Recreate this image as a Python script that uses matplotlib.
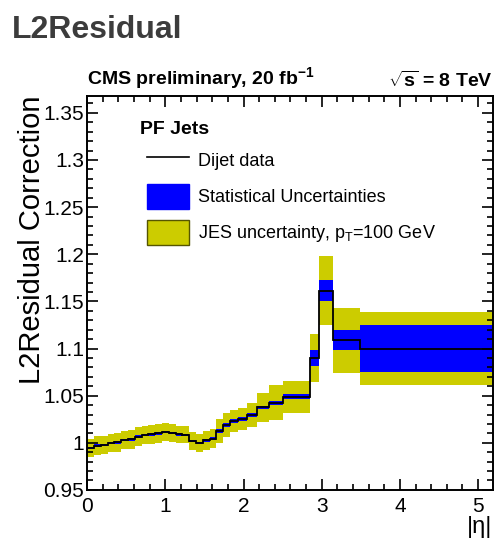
import numpy as np
import matplotlib
matplotlib.use("Agg")
import matplotlib.pyplot as plt
from matplotlib.patches import Patch
from matplotlib.lines import Line2D
from matplotlib.ticker import MultipleLocator, FuncFormatter

plt.rcParams['font.family'] = ['Liberation Sans', 'DejaVu Sans']
plt.rcParams['mathtext.fontset'] = 'custom'
plt.rcParams['mathtext.rm'] = 'Liberation Sans'
plt.rcParams['mathtext.it'] = 'Liberation Sans:italic'
plt.rcParams['mathtext.bf'] = 'Liberation Sans:bold'

# |eta| bin edges
eta_edges = [0.000, 0.087, 0.174, 0.261, 0.348, 0.435, 0.522, 0.609, 0.696,
             0.783, 0.870, 0.957, 1.044, 1.131, 1.218, 1.305, 1.392, 1.479,
             1.566, 1.653, 1.740, 1.830, 1.930, 2.043, 2.172, 2.322, 2.500,
             2.853, 2.964, 3.139, 3.489, 5.191]

# L2Residual correction from dijet balance
l2res = [0.9945, 0.9970, 0.9975, 1.0000, 1.0005, 1.0030, 1.0035, 1.0065,
         1.0085, 1.0090, 1.0100, 1.0115, 1.0105, 1.0090, 1.0085, 1.0020,
         1.0000, 1.0025, 1.0045, 1.0125, 1.0190, 1.0230, 1.0255, 1.0295,
         1.0375, 1.0425, 1.0490, 1.0900, 1.1615, 1.1090, 1.1000]

# statistical uncertainty (half width)
stat_err = [0.0013, 0.0013, 0.0013, 0.0013, 0.0013, 0.0013, 0.0013, 0.0013,
            0.0013, 0.0013, 0.0013, 0.0013, 0.0013, 0.0013, 0.0013, 0.0013,
            0.0013, 0.0013, 0.0013, 0.0020, 0.0020, 0.0020, 0.0020, 0.0020,
            0.0020, 0.0020, 0.0025, 0.0085, 0.0115, 0.0106, 0.0250]

# JES uncertainty at pT = 100 GeV (half width)
jes_err = [0.0098, 0.0098, 0.0098, 0.0098, 0.0098, 0.0098, 0.0098, 0.0098,
           0.0098, 0.0098, 0.0098, 0.0098, 0.0095, 0.0092, 0.0092, 0.0098,
           0.0098, 0.0098, 0.0098, 0.0124, 0.0128, 0.0115, 0.0115, 0.0124,
           0.0150, 0.0187, 0.0170, 0.0250, 0.0366, 0.0345, 0.0390]

vals = np.array(l2res)
stat = np.array(stat_err)
jes = np.array(jes_err)

yellow = '#cccc00'
blue = '#0000ff'

fig = plt.figure(figsize=(4.95, 5.48), dpi=100)
ax = fig.add_axes([0.176, 0.106, 0.820, 0.719])

ax.stairs(vals + jes, eta_edges, baseline=vals - jes, fill=True,
          color=yellow, lw=0)
ax.stairs(vals + stat, eta_edges, baseline=vals - stat, fill=True,
          color=blue, lw=0)
ax.stairs(vals, eta_edges, baseline=None, color='black', lw=1.3)

ax.set_xlim(0, 5.191)
ax.set_ylim(0.95, 1.368)

ax.xaxis.set_major_locator(MultipleLocator(1))
ax.xaxis.set_minor_locator(MultipleLocator(0.2))
ax.yaxis.set_major_locator(MultipleLocator(0.05))
ax.yaxis.set_minor_locator(MultipleLocator(0.01))
ax.yaxis.set_major_formatter(FuncFormatter(lambda v, p: '%g' % round(v, 3)))
ax.tick_params(which='both', direction='in', top=True, right=True,
               labelsize=15, width=1.2)
ax.tick_params(which='major', length=8)
ax.tick_params(which='minor', length=4)
ax.tick_params(axis='y', which='major', pad=2)
ax.tick_params(axis='x', which='major', pad=5)
for s in ax.spines.values():
    s.set_linewidth(1.4)

ax.set_ylabel('L2Residual Correction', fontsize=21, labelpad=-2, loc='top')
fig.text(0.995, 0.018, '|η|', fontsize=17, ha='right', va='bottom')

ax.text(0.0, 1.012, r'CMS preliminary, 20 fb$^{\mathbf{-1}}$',
        transform=ax.transAxes, fontsize=14, fontweight='bold',
        ha='left', va='bottom')
ax.text(1.0, 1.012, r'$\sqrt{\mathbf{s}}$ = 8 TeV', transform=ax.transAxes,
        fontsize=14, fontweight='bold', ha='right', va='bottom')

fig.text(0.024, 0.918, 'L2Residual', fontsize=23, fontweight='bold',
         color='#3c3c3c', ha='left', va='bottom')

ax.text(0.1305, 0.914, 'PF Jets', transform=ax.transAxes, fontsize=14,
        fontweight='bold', ha='left', va='center')

handles = [Line2D([], [], color='black', lw=1.2),
           Patch(facecolor=blue, edgecolor=blue),
           Patch(facecolor=yellow, edgecolor='#555500', lw=1)]
labels = ['Dijet data', 'Statistical Uncertainties',
          r'JES uncertainty, $\mathrm{p_{T}}$=100 GeV']
ax.legend(handles, labels, loc='upper left', bbox_to_anchor=(0.148, 0.869),
          frameon=False, fontsize=13, borderpad=0, borderaxespad=0,
          handlelength=2.3, handleheight=1.76, labelspacing=0.61,
          handletextpad=0.5)

fig.savefig('out.png', dpi=100)
